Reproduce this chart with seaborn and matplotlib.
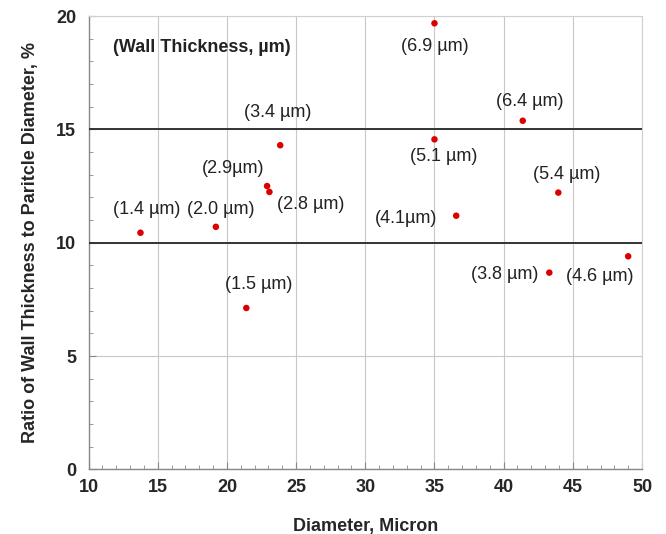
import matplotlib.pyplot as plt
import seaborn as sns
import pandas as pd
from matplotlib.ticker import MultipleLocator

# data
diameter = [13.75, 19.2, 21.4, 22.9, 23.07, 23.85, 35.0, 35.0, 36.57, 41.38, 43.95, 43.3, 49.0]
ratio = [10.44, 10.7, 7.12, 12.5, 12.24, 14.3, 19.68, 14.56, 11.19, 15.38, 12.21, 8.68, 9.4]
labels = ['(1.4 µm)', '(2.0 µm)', '(1.5 µm)', '(2.9µm)', '(2.8 µm)', '(3.4 µm)',
          '(6.9 µm)', '(5.1 µm)', '(4.1µm)', '(6.4 µm)', '(5.4 µm)', '(3.8 µm)', '(4.6 µm)']
# label offsets in pixels (dx, dy)
offsets = [(6, 23), (5, 17), (12, 23), (-34, 18), (41, -13), (-3, 33),
           (0, -23), (9, -17), (-50, -3), (7, 19), (8, 18), (-45, -2), (-28, -20)]

df = pd.DataFrame({'Diameter': diameter, 'Ratio': ratio})

sns.set_style("white")
plt.rcParams['font.family'] = ['Liberation Sans', 'DejaVu Sans']

fig = plt.figure(figsize=(6.66, 5.34), dpi=100)
ax = fig.add_axes([0.133, 0.121, 0.831, 0.849])

sns.scatterplot(data=df, x='Diameter', y='Ratio', ax=ax, color='#dd0000',
                s=22, edgecolor='none', zorder=5)

ax.set_xlim(10, 50)
ax.set_ylim(0, 20)
ax.xaxis.set_major_locator(MultipleLocator(5))
ax.xaxis.set_minor_locator(MultipleLocator(1))
ax.yaxis.set_major_locator(MultipleLocator(5))
ax.yaxis.set_minor_locator(MultipleLocator(1))
ax.grid(True, which='major', color='#c8c8c8', linewidth=0.8)
ax.set_axisbelow(True)

ax.axhline(10, color='#333333', linewidth=1.4, zorder=3)
ax.axhline(15, color='#333333', linewidth=1.4, zorder=3)

ax.tick_params(axis='both', which='major', direction='in', length=5, width=0.8,
               color='#888888', labelsize=13)
ax.tick_params(axis='x', which='major', pad=7)
ax.tick_params(axis='y', which='major', pad=9)
ax.tick_params(axis='both', which='minor', direction='in', length=3, width=0.6,
               color='#888888')
ax.tick_params(left=True, bottom=True, which='both')
for lab in ax.get_xticklabels() + ax.get_yticklabels():
    lab.set_fontweight('bold')

for side in ['left', 'bottom']:
    ax.spines[side].set_color('#888888')
    ax.spines[side].set_linewidth(1.0)
for side in ['top', 'right']:
    ax.spines[side].set_color('#d0d0d0')
    ax.spines[side].set_linewidth(0.8)

for x, y, t, (dx, dy) in zip(diameter, ratio, labels, offsets):
    ax.annotate(t, (x, y), xytext=(dx, dy), textcoords='offset pixels',
                ha='center', va='center', fontsize=13, color='#222222')

ax.text(0.205, 0.93, '(Wall Thickness, µm)', transform=ax.transAxes,
        ha='center', va='center', fontsize=13, fontweight='bold', color='#222222')

ax.set_xlabel('Diameter, Micron', fontsize=13, fontweight='bold', labelpad=16)
ax.set_ylabel('Ratio of Wall Thickness to Paritcle Diameter, %', fontsize=13,
              fontweight='bold', labelpad=12)

fig.savefig('out.png', dpi=100)
